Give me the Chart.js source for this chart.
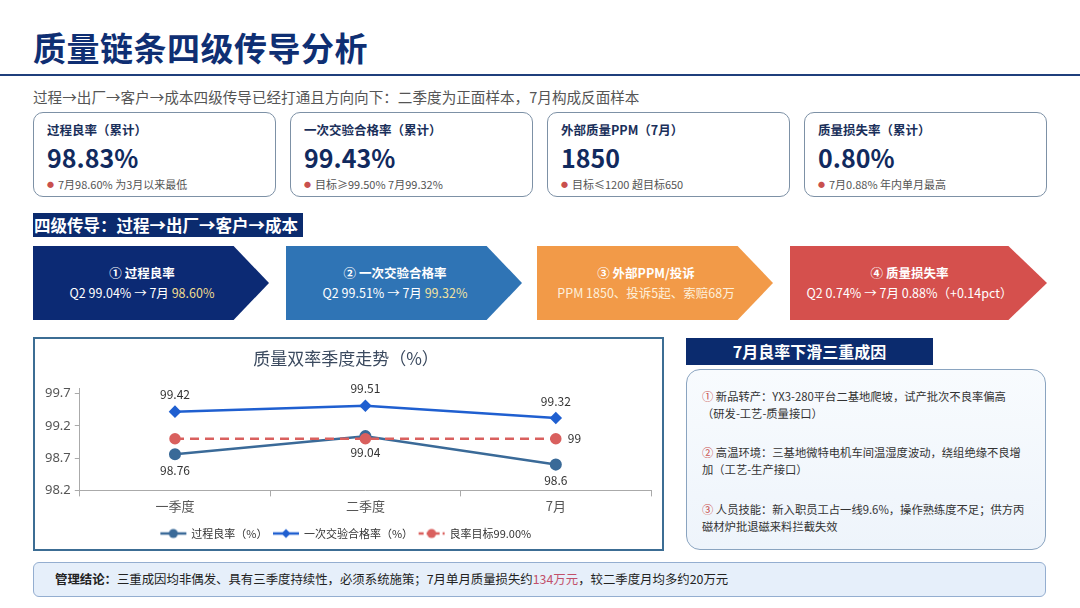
<!DOCTYPE html>
<html lang="zh-CN">
<head>
<meta charset="utf-8">
<script src="https://cdn.jsdelivr.net/npm/chart.js@4.4.1/dist/chart.umd.min.js"></script>
<style>
  *{box-sizing:border-box;margin:0;padding:0}
  body{width:1080px;height:608px;background:#fff;position:relative;overflow:hidden;font-family:"Noto Sans CJK SC","Noto Sans",sans-serif;color:#333}
  .abs{position:absolute}
  #title{left:33px;top:26px;font-size:33px;font-weight:700;color:#0f2f73;line-height:42px;letter-spacing:0.5px}
  #rule{left:0;top:74px;width:1080px;height:2px;background:#1f3f7c}
  #sub{left:33px;top:87px;font-size:14.6px;color:#555;line-height:20px}
  .card{top:112px;width:243px;height:85px;border:1.3px solid #7d91a6;border-radius:10px;background:#fff}
  .card .lb{position:absolute;left:13px;top:8px;font-size:12.5px;font-weight:700;color:#1a2f5a;line-height:18px}
  .card .num{position:absolute;left:13px;top:28px;font-size:25px;font-weight:700;color:#112a5e;line-height:32px}
  .card .nt{position:absolute;left:13px;top:63px;font-size:11px;color:#555;line-height:16px}
  .card .nt b{color:#c9504d;font-weight:400;margin-right:4px;font-size:7px;vertical-align:2px}
  #sec{left:33px;top:213px;width:270px;height:24px;background:#0b2b6e;color:#fff;font-size:16.5px;font-weight:700;line-height:24px;padding-left:1px;white-space:nowrap}
  .arr{top:246px;width:236px;height:74px;clip-path:polygon(0 0,85% 0,100% 50%,85% 100%,0 100%);color:#fff;text-align:center;padding-right:18px;padding-top:17px;font-size:12.5px;line-height:20px}
  .arr .t{font-weight:700}
  #chartBox{left:33px;top:337px;width:631px;height:214px;border:2px solid #3c6d94;background:#fff}
  #chartWrap{position:absolute;left:0;top:0;width:627px;height:210px}
  #causeHd{left:686px;top:338px;width:247px;height:27px;background:#0b2b6e;color:#fff;font-size:16px;font-weight:700;text-align:center;line-height:27px}
  #causeBox{left:686px;top:369px;width:360px;height:181px;border:1.5px solid #8aa4c0;border-radius:14px;background:linear-gradient(180deg,#f8fbfe,#eef4fb)}
  .cz{position:absolute;left:15px;width:345px;font-size:11.3px;line-height:17px;color:#333;white-space:nowrap}
  .cz i{font-style:normal;color:#c9504d}
  #concl{left:33px;top:562px;width:1013px;height:35px;background:#e6effa;border:1.5px solid #94aed0;border-radius:6px;font-size:12.4px;line-height:32px;padding-left:21px;color:#222}
  #concl b{font-weight:700}
  #concl span{color:#c2506a}
</style>
</head>
<body>
<div id="title" class="abs">质量链条四级传导分析</div>
<div id="rule" class="abs"></div>
<div id="sub" class="abs">过程→出厂→客户→成本四级传导已经打通且方向向下：二季度为正面样本，7月构成反面样本</div>

<div class="card abs" style="left:33px"><div class="lb">过程良率（累计）</div><div class="num">98.83%</div><div class="nt"><b>●</b>7月98.60% 为3月以来最低</div></div>
<div class="card abs" style="left:290px"><div class="lb">一次交验合格率（累计）</div><div class="num">99.43%</div><div class="nt"><b>●</b>目标≥99.50% 7月99.32%</div></div>
<div class="card abs" style="left:547px"><div class="lb">外部质量PPM（7月）</div><div class="num">1850</div><div class="nt"><b>●</b>目标≤1200 超目标650</div></div>
<div class="card abs" style="left:804px"><div class="lb">质量损失率（累计）</div><div class="num">0.80%</div><div class="nt"><b>●</b>7月0.88% 年内单月最高</div></div>

<div id="sec" class="abs">四级传导：过程→出厂→客户→成本</div>

<div class="arr abs" style="left:33px;background:#0c2a74"><div class="t">① 过程良率</div><div>Q2 99.04% → 7月 <span style="color:#f1dc8e">98.60%</span></div></div>
<div class="arr abs" style="left:286px;background:#2f74b5"><div class="t">② 一次交验合格率</div><div>Q2 99.51% → 7月 <span style="color:#f1e2a0">99.32%</span></div></div>
<div class="arr abs" style="left:537px;background:#f29a48"><div class="t">③ 外部PPM/投诉</div><div style="color:#fdf0dc">PPM 1850、投诉5起、索赔68万</div></div>
<div class="arr abs" style="left:790px;background:#d5504d;width:257px"><div class="t">④ 质量损失率</div><div>Q2 0.74% → 7月 0.88%（+0.14pct）</div></div>

<div id="chartBox" class="abs"><div id="chartWrap"><canvas id="c"></canvas></div></div>

<div id="causeHd" class="abs">7月良率下滑三重成因</div>
<div id="causeBox" class="abs">
  <div class="cz" style="top:18px"><i>①</i> 新品转产：YX3-280平台二基地爬坡，试产批次不良率偏高<br>（研发-工艺-质量接口）</div>
  <div class="cz" style="top:74px"><i>②</i> 高温环境：三基地微特电机车间温湿度波动，绕组绝缘不良增<br>加（工艺-生产接口）</div>
  <div class="cz" style="top:131px"><i>③</i> 人员技能：新入职员工占一线9.6%，操作熟练度不足；供方丙<br>磁材炉批退磁来料拦截失效</div>
</div>

<div id="concl" class="abs"><b>管理结论：</b>三重成因均非偶发、具有三季度持续性，必须系统施策；7月单月质量损失约<span>134万元</span>，较二季度月均多约20万元</div>

<script>
const categories = ['一季度', '二季度', '7月'];
const processYield = [98.76, 99.04, 98.6];
const firstPassRate = [99.42, 99.51, 99.32];
const yieldTarget = [99, 99, 99];
const yTicks = [98.2, 98.7, 99.2, 99.7];
const seriesNames = ['过程良率（%）', '一次交验合格率（%）', '良率目标99.00%'];

const C_PROC = '#3a6a98', C_FPR = '#1f5fd0', C_TGT = '#d9605e';

function legendIcon(color, shape, dashed) {
  const cv = document.createElement('canvas');
  cv.width = 28; cv.height = 12;
  const g = cv.getContext('2d');
  g.strokeStyle = color; g.fillStyle = color; g.lineWidth = 2.5;
  if (dashed) g.setLineDash([5, 3]);
  g.beginPath(); g.moveTo(1, 6); g.lineTo(27, 6); g.stroke();
  g.setLineDash([]);
  g.beginPath();
  if (shape === 'diamond') { g.moveTo(14, 1.5); g.lineTo(18.5, 6); g.lineTo(14, 10.5); g.lineTo(9.5, 6); g.closePath(); }
  else { g.arc(14, 6, 4.5, 0, Math.PI * 2); }
  g.fill();
  return cv;
}

const valueLabels = {
  id: 'valueLabels',
  afterDatasetsDraw(chart) {
    const ctx = chart.ctx;
    ctx.save();
    ctx.font = '12px "Noto Sans CJK SC", "Noto Sans", sans-serif';
    ctx.fillStyle = '#333';
    ctx.textBaseline = 'middle';
    chart.data.datasets.forEach((ds, i) => {
      const meta = chart.getDatasetMeta(i);
      meta.data.forEach((pt, j) => {
        const txt = String(ds.data[j]);
        if (ds.labelMode === 'above') { ctx.textAlign = 'center'; ctx.fillText(txt, pt.x, pt.y - 17); }
        else if (ds.labelMode === 'below') { ctx.textAlign = 'center'; ctx.fillText(txt, pt.x, pt.y + 16); }
        else if (ds.labelMode === 'lastRight' && j === ds.data.length - 1) { ctx.textAlign = 'left'; ctx.fillText(txt, pt.x + 12, pt.y); }
      });
    });
    ctx.restore();
  }
};

new Chart(document.getElementById('c'), {
  type: 'line',
  data: {
    labels: categories,
    datasets: [
      { label: seriesNames[0], data: processYield, borderColor: C_PROC, backgroundColor: C_PROC, borderWidth: 2.5,
        pointStyle: 'circle', pointRadius: 4.8, pointHoverRadius: 4.8, labelMode: 'below', order: 2, icon: legendIcon(C_PROC, 'circle') },
      { label: seriesNames[1], data: firstPassRate, borderColor: C_FPR, backgroundColor: C_FPR, borderWidth: 2.5,
        pointStyle: 'rectRot', pointRadius: 4.5, pointHoverRadius: 4.5, labelMode: 'above', order: 1, icon: legendIcon(C_FPR, 'diamond') },
      { label: seriesNames[2], data: yieldTarget, borderColor: C_TGT, backgroundColor: C_TGT, borderWidth: 2.5, borderDash: [9, 6],
        pointStyle: 'circle', pointRadius: 4.5, pointHoverRadius: 4.5, labelMode: 'lastRight', order: 0, icon: legendIcon(C_TGT, 'circle', true) }
    ]
  },
  options: {
    responsive: true,
    maintainAspectRatio: false,
    animation: false,
    layout: { padding: { left: 6, right: 11, top: 0, bottom: 0 } },
    scales: {
      x: {
        offset: true,
        grid: { display: true, offset: true, drawOnChartArea: false, drawTicks: true, tickLength: 6, color: '#aaa' },
        border: { display: true, color: '#aaa', width: 1 },
        ticks: { color: '#555', font: { size: 13, family: '"Noto Sans CJK SC", sans-serif' }, padding: 2 },
        title: { display: true, text: '', font: { size: 5 }, padding: 0 }
      },
      y: {
        min: 98.2, max: 99.78,
        afterBuildTicks: (scale) => { scale.ticks = yTicks.map(v => ({ value: v })); },
        grid: { display: true, drawOnChartArea: false, drawTicks: true, tickLength: 5, color: '#aaa' },
        border: { display: true, color: '#aaa', width: 1 },
        ticks: { color: '#555', font: { size: 13, family: '"Noto Sans", sans-serif' }, padding: 4, callback: (v) => Number(v).toFixed(1) }
      }
    },
    plugins: {
      title: { display: true, text: '质量双率季度走势（%）', color: '#3b4a5f',
        font: { size: 17, weight: 'normal', family: '"Noto Sans CJK SC", sans-serif' }, padding: { top: 9, bottom: 20 } },
      legend: {
        position: 'bottom',
        labels: {
          usePointStyle: true, pointStyleWidth: 25, padding: 6, color: '#333',
          font: { size: 11, family: '"Noto Sans CJK SC", sans-serif' },
          sort: (a, b) => a.datasetIndex - b.datasetIndex,
          generateLabels: (chart) => chart.data.datasets.map((ds, i) => ({
            text: ds.label, pointStyle: ds.icon, fillStyle: ds.borderColor, strokeStyle: ds.borderColor,
            lineWidth: 0, fontColor: '#333', datasetIndex: i, hidden: false
          }))
        }
      },
      tooltip: { enabled: false }
    }
  },
  plugins: [valueLabels]
});
</script>
</body>
</html>
